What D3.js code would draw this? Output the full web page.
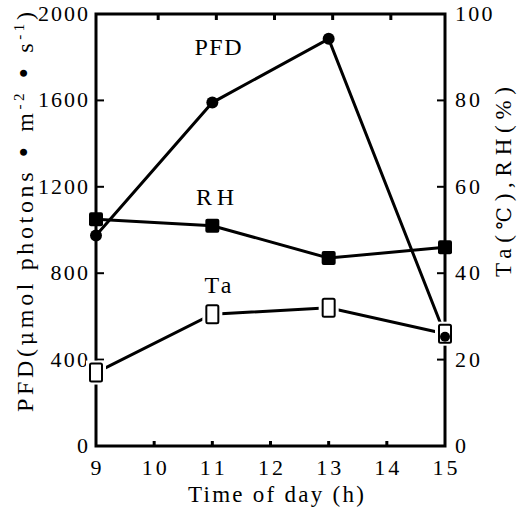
<!DOCTYPE html>
<meta charset="utf-8" />
<script src="https://d3js.org/d3.v7.min.js"></script>
<style>
  html, body { margin: 0; padding: 0; background: #fff; overflow: hidden; }
</style>
<div id="chart"></div>
<script>
  // data
  var hours = [9, 11, 13, 15];
  var pfd = [975, 1590, 1885, 515];   // umol photons m-2 s-1, left axis
  var rh = [52.5, 51, 43.5, 46];      // %, right axis
  var ta = [17, 30.5, 32, 26];        // degC, right axis
  var xTicks = [9, 10, 11, 12, 13, 14, 15];
  var leftTicks = [0, 400, 800, 1200, 1600, 2000];
  var rightTicks = [0, 20, 40, 60, 80, 100];

  var width = 524, height = 516;
  var FONT = "Liberation Serif";
  var SYM = "DejaVu Serif";   // for the symbol glyphs
  var svg = d3.select("#chart").append("svg")
    .attr("width", width).attr("height", height);

  var x = d3.scaleLinear().domain([9, 15]).range([96, 445]);
  var yL = d3.scaleLinear().domain([0, 2000]).range([446, 14]);
  var yR = d3.scaleLinear().domain([0, 100]).range([446, 14]);

  // frame
  svg.append("rect")
    .attr("x", x(9)).attr("y", yL(2000))
    .attr("width", x(15) - x(9)).attr("height", yL(0) - yL(2000))
    .attr("fill", "none").attr("stroke", "#000").attr("stroke-width", 3);

  // inward ticks
  var inner = xTicks.slice(1, -1);
  svg.selectAll(".tb").data(inner).enter().append("line")
    .attr("x1", function(d) { return x(d); }).attr("x2", function(d) { return x(d); })
    .attr("y1", yL(0)).attr("y2", yL(0) - 5)
    .attr("stroke", "#000").attr("stroke-width", 3);
  svg.selectAll(".tt").data(inner).enter().append("line")
    .attr("x1", function(d) { return x(d) + 4; }).attr("x2", function(d) { return x(d) + 4; })
    .attr("y1", yL(2000)).attr("y2", yL(2000) + 6)
    .attr("stroke", "#000").attr("stroke-width", 3);
  svg.selectAll(".tl").data(leftTicks.slice(1, -1)).enter().append("line")
    .attr("x1", x(9)).attr("x2", x(9) + 8)
    .attr("y1", function(d) { return yL(d); }).attr("y2", function(d) { return yL(d); })
    .attr("stroke", "#000").attr("stroke-width", 2);
  svg.selectAll(".tr").data(rightTicks.slice(1, -1)).enter().append("line")
    .attr("x1", x(15)).attr("x2", x(15) - 8)
    .attr("y1", function(d) { return yR(d); }).attr("y2", function(d) { return yR(d); })
    .attr("stroke", "#000").attr("stroke-width", 2);

  // tick labels
  svg.selectAll(".lx").data(xTicks).enter().append("text")
    .attr("x", function(d) { return x(d); }).attr("y", 475)
    .attr("text-anchor", "middle")
    .style("font-family", FONT).style("font-size", "22px")
    .attr("textLength", function(d) { return String(d).length * 12.5; })
    .text(function(d) { return d; });
  svg.selectAll(".ll").data(leftTicks).enter().append("text")
    .attr("x", 88).attr("y", function(d) { return yL(d) + 7; })
    .attr("text-anchor", "end")
    .style("font-family", FONT).style("font-size", "22px")
    .attr("textLength", function(d) { return String(d).length * 12.5; })
    .text(function(d) { return d; });
  svg.selectAll(".lr").data(rightTicks).enter().append("text")
    .attr("x", 455).attr("y", function(d) { return yR(d) + 7; })
    .style("font-family", FONT).style("font-size", "22px")
    .attr("textLength", function(d) { return String(d).length * 12.5; })
    .text(function(d) { return d; });

  // axis titles
  svg.append("text")
    .attr("x", 276).attr("y", 502).attr("text-anchor", "middle")
    .style("font-family", FONT).style("font-size", "23px")
    .attr("textLength", 176)
    .text("Time of day (h)");

  var lt = svg.append("text")
    .attr("transform", "translate(33,212) rotate(-90)")
    .attr("text-anchor", "middle")
    .attr("textLength", 400).attr("lengthAdjust", "spacing")
    .style("font-family", FONT).style("font-size", "24px");
  lt.append("tspan").text("PFD(");
  lt.append("tspan").style("font-family", SYM).style("font-size", "21px").text("\u03bc");
  lt.append("tspan").text("mol photons ");
  lt.append("tspan").style("font-family", SYM).text("\u2022");
  lt.append("tspan").text(" m");
  lt.append("tspan").attr("dy", -9).style("font-size", "15px").text("-2");
  lt.append("tspan").attr("dy", 9).text(" ");
  lt.append("tspan").style("font-family", SYM).text("\u2022");
  lt.append("tspan").text(" s");
  lt.append("tspan").attr("dy", -9).style("font-size", "15px").text("-1");
  lt.append("tspan").attr("dy", 9).text(")");

  var rt = svg.append("text")
    .attr("transform", "translate(511,182) rotate(-90)")
    .attr("text-anchor", "middle")
    .attr("textLength", 190).attr("lengthAdjust", "spacing")
    .style("font-family", FONT).style("font-size", "23px");
  rt.append("tspan").text("Ta(");
  rt.append("tspan").style("font-family", SYM).style("font-size", "20px").text("\u2103");
  rt.append("tspan").text("),RH(%)");

  // PFD line + filled circles
  var linePfd = d3.line().x(function(d, i) { return x(hours[i]); }).y(function(d) { return yL(d); });
  svg.append("path").datum(pfd).attr("d", linePfd)
    .attr("fill", "none").attr("stroke", "#000").attr("stroke-width", 3);
  svg.selectAll(".cp").data(pfd).enter().append("circle")
    .attr("cx", function(d, i) { return x(hours[i]); })
    .attr("cy", function(d) { return yL(d); })
    .attr("r", 6).attr("fill", "#000");

  // RH line + filled squares
  var lineR = d3.line().x(function(d, i) { return x(hours[i]); }).y(function(d) { return yR(d); });
  svg.append("path").datum(rh).attr("d", lineR)
    .attr("fill", "none").attr("stroke", "#000").attr("stroke-width", 3);
  svg.selectAll(".sr").data(rh).enter().append("rect")
    .attr("x", function(d, i) { return x(hours[i]) - 7; })
    .attr("y", function(d) { return yR(d) - 7; })
    .attr("width", 14).attr("height", 14).attr("rx", 2).attr("fill", "#000");

  // Ta line + open squares
  svg.append("path").datum(ta).attr("d", lineR)
    .attr("fill", "none").attr("stroke", "#000").attr("stroke-width", 3);
  svg.selectAll(".sw").data(ta).enter().append("rect")
    .attr("x", function(d, i) { return x(hours[i]) - 10; })
    .attr("y", function(d) { return yR(d) - 12; })
    .attr("width", 20).attr("height", 24).attr("fill", "#fff");
  svg.selectAll(".st").data(ta).enter().append("rect")
    .attr("x", function(d, i) { return x(hours[i]) - 6; })
    .attr("y", function(d) { return yR(d) - 9; })
    .attr("width", 12).attr("height", 18).attr("rx", 1.5)
    .attr("fill", "#fff").attr("stroke", "#000").attr("stroke-width", 2);
  // PFD point at 15 h shows inside the open square
  svg.append("circle").attr("cx", x(15)).attr("cy", yL(pfd[3]) + 2).attr("r", 5).attr("fill", "#000");

  // series labels
  var labels = [["PFD", 218, 55, 47], ["RH", 215, 205, 38], ["Ta", 218, 293, 27]];
  svg.selectAll(".sl").data(labels).enter().append("text")
    .attr("x", function(d) { return d[1]; }).attr("y", function(d) { return d[2]; })
    .attr("text-anchor", "middle")
    .style("font-family", FONT).style("font-size", "24px")
    .attr("textLength", function(d) { return d[3]; })
    .text(function(d) { return d[0]; });
</script>
